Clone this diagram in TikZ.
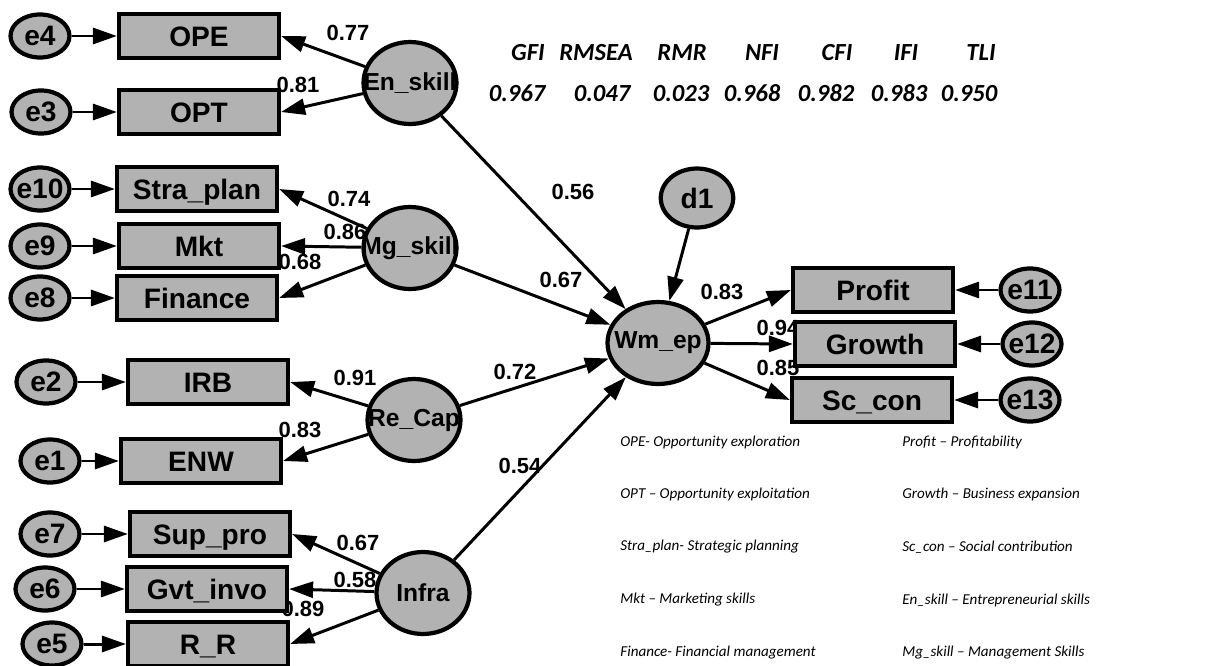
\documentclass[tikz,border=0pt]{standalone}
\usepackage{fontspec}
\setmainfont{Liberation Sans}
\newfontfamily\calib[Ligatures=TeX,Numbers=Lining]{Carlito}
\usetikzlibrary{arrows.meta,shapes.geometric}
\newcommand\ztxt[1]{\makebox[0pt]{#1}}
\begin{document}
\begin{tikzpicture}[x=0.02cm,y=-0.02cm,
  obs/.style={draw,line width=2.4pt,fill=gray!60,minimum width=3.2cm,minimum height=0.88cm,text height=12pt,text depth=0.6pt,font=\fontsize{16}{16}\selectfont\bfseries},
  err/.style={draw,ellipse,line width=2.4pt,fill=gray!60,minimum width=1.18cm,minimum height=0.86cm,inner sep=0pt,font=\fontsize{16}{16}\selectfont\bfseries},
  lat/.style={draw,ellipse,line width=2.4pt,fill=gray!60,minimum width=1.86cm,minimum height=1.64cm,inner sep=0pt,font=\fontsize{14}{14}\selectfont\bfseries},
  reg/.style={line width=1.7pt,-{Triangle[length=0.48cm,width=0.32cm]}},
  coef/.style={font=\fontsize{12.5}{12.5}\selectfont\bfseries,inner sep=0pt},
  fitidx/.style={font=\calib\bfseries\itshape\fontsize{14}{14}\selectfont,inner sep=0pt,anchor=base},
  gloss/.style={font=\calib\itshape\fontsize{8.6}{8.6}\selectfont,anchor=west,inner sep=0pt}]
\useasboundingbox (0,0) rectangle (1231,666);
% loadings and paths (some sit under the nodes)
\node[coef] (l077) at (348,33) {0.77}; \node[coef] (l081) at (298,85) {0.81};
\node[coef] (l074) at (349,199) {0.74}; \node[coef] (l086) at (345,232) {0.86}; \node[coef] (l068) at (300,262) {0.68};
\node[coef] (l091) at (355,378) {0.91}; \node[coef] (l083a) at (300,430) {0.83};
\node[coef] (l067a) at (358,543) {0.67}; \node[coef] (l058) at (355,580) {0.58}; \node[coef] (l089) at (303,609) {0.89};
\node[coef] (l056) at (573,192) {0.56}; \node[coef] (l067b) at (561,280) {0.67};
\node[coef] (l072) at (515,372) {0.72}; \node[coef] (l054) at (520,466) {0.54};
\node[coef] (l083b) at (722,292) {0.83}; \node[coef] (l094) at (778,328) {0.94}; \node[coef] (l085) at (778,368) {0.85};
% indicators
\node[err] (e4) at (40,36) {\ztxt{e4}}; \node[obs] (ope) at (199,36) {OPE};
\node[err] (e3) at (41,112) {\ztxt{e3}}; \node[obs] (opt) at (199,112) {OPT};
\node[err] (e10) at (40,189) {\ztxt{e10}}; \node[obs] (stra) at (197,189) {Stra\_plan};
\node[err] (e9) at (40,246) {\ztxt{e9}}; \node[obs] (mkt) at (199,246) {Mkt};
\node[err] (e8) at (40,298) {\ztxt{e8}}; \node[obs] (fin) at (197,298) {Finance};
\node[err] (e2) at (46,382) {\ztxt{e2}}; \node[obs] (irb) at (208,382) {IRB};
\node[err] (e1) at (50,461) {\ztxt{e1}}; \node[obs] (enw) at (201,461) {ENW};
\node[err] (e7) at (50,534) {\ztxt{e7}}; \node[obs] (sup) at (210,534) {Sup\_pro};
\node[err] (e6) at (45,589) {\ztxt{e6}}; \node[obs] (gvt) at (207,589) {Gvt\_invo};
\node[err] (e5) at (52,644) {\ztxt{e5}}; \node[obs] (rr) at (208,644) {R\_R};
\node[obs] (profit) at (873,290) {Profit}; \node[err] (e11) at (1030,290) {\ztxt{e11}};
\node[obs] (growth) at (875,344) {Growth}; \node[err] (e12) at (1032,344) {\ztxt{e12}};
\node[obs] (sccon) at (872,400) {Sc\_con}; \node[err] (e13) at (1030,400) {\ztxt{e13}};
% latents
\node[lat] (en) at (410,83) {\ztxt{En\_skill}};
\node[lat] (mg) at (410,248) {\ztxt{Mg\_skill}};
\node[lat] (re) at (414,420) {\ztxt{Re\_Cap}};
\node[lat] (infra) at (423,593) {\ztxt{Infra}};
\node[lat,minimum width=2.02cm,minimum height=1.64cm] (wm) at (658,343) {\ztxt{Wm\_ep}};
\node[lat,minimum width=1.45cm,minimum height=1.18cm,font=\fontsize{16}{16}\selectfont\bfseries] (d1) at (697,198) {\ztxt{d1}};
% arrows
\draw[reg] (e4)--(ope); \draw[reg] (e3)--(opt); \draw[reg] (e10)--(stra); \draw[reg] (e9)--(mkt); \draw[reg] (e8)--(fin);
\draw[reg] (e2)--(irb); \draw[reg] (e1)--(enw); \draw[reg] (e7)--(sup); \draw[reg] (e6)--(gvt); \draw[reg] (e5)--(rr);
\draw[reg] (e11)--(profit); \draw[reg] (e12)--(growth); \draw[reg] (e13)--(sccon);
\draw[reg] (en)--(ope.east); \draw[reg] (en)--(opt.east);
\draw[reg] (mg)--(stra.east); \draw[reg] (mg)--(mkt.east); \draw[reg] (mg)--(fin.east);
\draw[reg] (re)--(irb.east); \draw[reg] (re)--(enw.east);
\draw[reg] (infra)--(sup.east); \draw[reg] (infra)--(gvt.east); \draw[reg] (infra)--(rr.east);
\draw[reg] (en)--(wm); \draw[reg] (mg)--(wm); \draw[reg] (re)--(wm); \draw[reg] (infra)--(wm); \draw[reg] (d1)--(wm);
\draw[reg] (wm)--(profit.west); \draw[reg] (wm)--(growth.west); \draw[reg] (wm)--(sccon.west);
% fit indices
\node[fitidx] (hgfi) at (528,60) {GFI}; \node[fitidx] (hrmsea) at (596,60) {RMSEA}; \node[fitidx] (hrmr) at (682,60) {RMR};
\node[fitidx] (hnfi) at (762,60) {NFI}; \node[fitidx] (hcfi) at (837,60) {CFI}; \node[fitidx] (hifi) at (906,60) {IFI}; \node[fitidx] (htli) at (981,60) {TLI};
\node[fitidx] (vgfi) at (517,101) {0.967}; \node[fitidx] (vrmsea) at (602,101) {0.047}; \node[fitidx] (vrmr) at (681,101) {0.023};
\node[fitidx] (vnfi) at (752,101) {0.968}; \node[fitidx] (vcfi) at (826,101) {0.982}; \node[fitidx] (vifi) at (899,101) {0.983}; \node[fitidx] (vtli) at (969,101) {0.950};
% abbreviations
\node[gloss] (k1) at (620,442) {OPE- Opportunity exploration}; \node[gloss] (k6) at (902,442) {Profit -- Profitability};
\node[gloss] (k2) at (620,494) {OPT -- Opportunity exploitation}; \node[gloss] (k7) at (902,494) {Growth -- Business expansion};
\node[gloss] (k3) at (620,547) {Stra\_plan- Strategic planning}; \node[gloss] (k8) at (902,547) {Sc\_con -- Social contribution};
\node[gloss] (k4) at (620,600) {Mkt -- Marketing skills}; \node[gloss] (k9) at (902,600) {En\_skill -- Entrepreneurial skills};
\node[gloss] (k5) at (620,653) {Finance- Financial management}; \node[gloss] (k10) at (902,653) {Mg\_skill -- Management Skills};
\end{tikzpicture}
\end{document}
